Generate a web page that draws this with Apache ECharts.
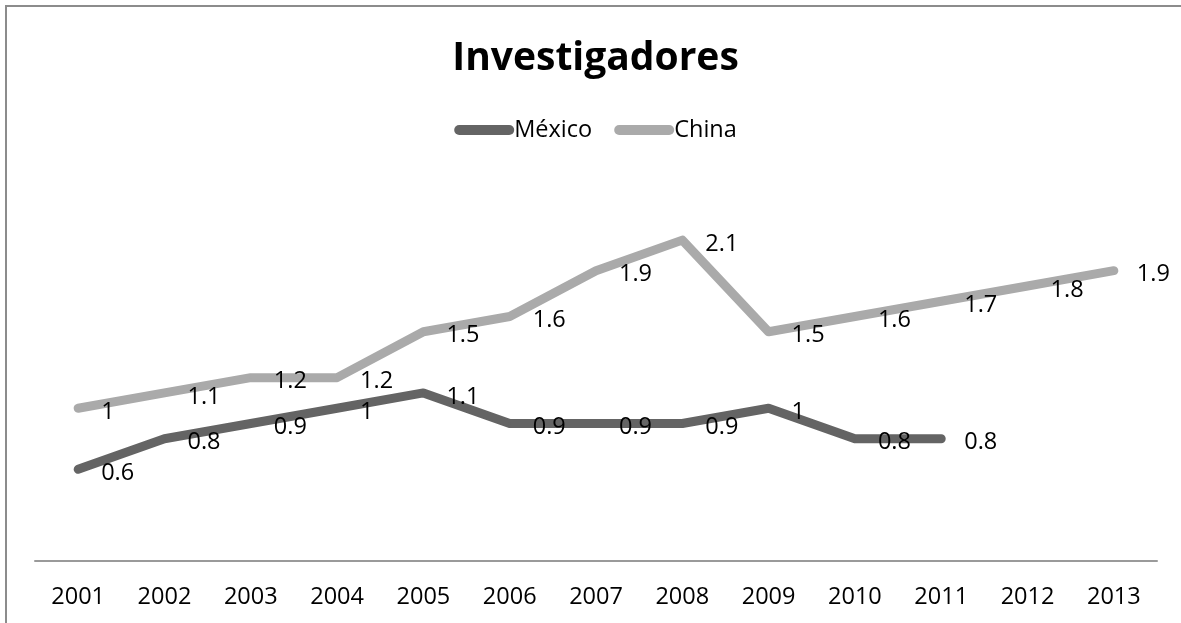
<!DOCTYPE html>
<html>
<head>
<meta charset="utf-8">
<script src="https://cdn.jsdelivr.net/npm/echarts@6/dist/echarts.min.js"></script>
<style>
  html, body { margin: 0; padding: 0; overflow: hidden; background: #fff; }
  #chart { position: absolute; left: 0; top: 0; width: 1191px; height: 623px; }
</style>
</head>
<body>
<div id="chart"></div>
<script>
// Researchers per year (values as labelled on the chart)
const years = ['2001','2002','2003','2004','2005','2006','2007','2008','2009','2010','2011','2012','2013'];
const mexico = [0.6, 0.8, 0.9, 1, 1.1, 0.9, 0.9, 0.9, 1, 0.8, 0.8, null, null];
const china  = [1, 1.1, 1.2, 1.2, 1.5, 1.6, 1.9, 2.1, 1.5, 1.6, 1.7, 1.8, 1.9];

const FONT = '"Open Sans", Lato, sans-serif';
const pill = 'path://M5,0 L55,0 A5,5 0 0 1 55,10 L5,10 A5,5 0 0 1 5,0 Z';

function lineSeries(name, data, color) {
  return {
    name: name,
    type: 'line',
    data: data,
    symbol: 'circle',
    symbolSize: 2,
    showSymbol: true,
    connectNulls: false,
    itemStyle: { color: color },
    lineStyle: { color: color, width: 9, cap: 'round', join: 'round' },
    label: {
      show: true,
      position: 'right',
      distance: 22,
      offset: [0, 4],
      color: '#000',
      fontFamily: FONT,
      fontSize: 23.5
    },
    emphasis: { disabled: true },
    animation: false
  };
}

const chart = echarts.init(document.getElementById('chart'), null, { renderer: 'canvas' });
chart.setOption({
  backgroundColor: '#fff',
  animation: false,
  title: {
    text: 'Investigadores',
    left: 'center',
    top: 34,
    textStyle: { fontFamily: FONT, fontWeight: 'bold', fontSize: 39, color: '#000' }
  },
  legend: {
    top: 113,
    left: 'center',
    itemWidth: 60,
    itemHeight: 10,
    itemGap: 22,
    icon: pill,
    textStyle: { fontFamily: FONT, fontSize: 23.5, color: '#000', padding: [0, 0, 0, -5] },
    data: ['México', 'China']
  },
  grid: { left: 35, right: 34, top: 179, bottom: 62 },
  xAxis: {
    type: 'category',
    data: years,
    boundaryGap: true,
    axisLine: { show: true, lineStyle: { color: '#9a9a9a', width: 2 } },
    axisTick: { show: false },
    axisLabel: { margin: 24, color: '#000', fontFamily: FONT, fontSize: 23.5 }
  },
  yAxis: {
    type: 'value',
    min: 0,
    max: 2.5,
    show: false,
    splitLine: { show: false }
  },
  graphic: [{
    type: 'rect',
    shape: { x: 6, y: 6, width: 1300, height: 800 },
    style: { fill: 'none', stroke: '#8c8c8c', lineWidth: 2 },
    silent: true
  }],
  series: [
    lineSeries('México', mexico, '#646464'),
    lineSeries('China', china, '#aaaaaa')
  ]
});
</script>
</body>
</html>
